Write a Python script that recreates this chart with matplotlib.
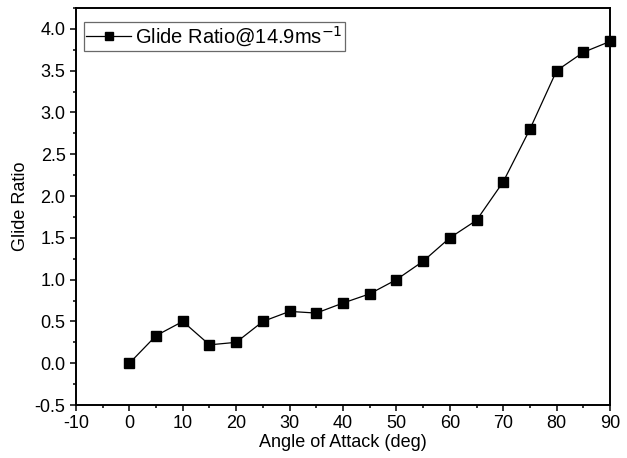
import matplotlib.pyplot as plt
from matplotlib.ticker import MultipleLocator

plt.rcParams['font.family'] = ['Liberation Sans', 'DejaVu Sans']

# Datos
angle = [0, 5, 10, 15, 20, 25, 30, 35, 40, 45, 50, 55, 60, 65, 70, 75, 80, 85, 90]
glide = [0.0, 0.33, 0.5, 0.22, 0.25, 0.5, 0.62, 0.6, 0.72, 0.83, 1.0, 1.22,
         1.5, 1.71, 2.17, 2.8, 3.5, 3.72, 3.85]

fig = plt.figure(figsize=(6.27, 4.58), dpi=100)
ax = fig.add_axes([0.1212, 0.1157, 0.8517, 0.8668])

ax.plot(angle, glide, color='black', linewidth=0.9, marker='s', markersize=7,
        clip_on=False, zorder=3, label='Glide Ratio@14.9ms$^{-1}$')

ax.set_xlim(-10, 90)
ax.set_ylim(-0.5, 4.25)
ax.xaxis.set_minor_locator(MultipleLocator(5))
ax.yaxis.set_minor_locator(MultipleLocator(0.25))
ax.set_xticks(range(-10, 91, 10))
ax.set_xticklabels([str(v) for v in range(-10, 91, 10)])
ax.set_yticks([-0.5 + 0.5 * i for i in range(10)])
ax.set_yticklabels(['%.1f' % (-0.5 + 0.5 * i) for i in range(10)])

ax.tick_params(which='major', direction='out', length=4.5, width=1.1,
               labelsize=13, pad=3)
ax.tick_params(which='minor', direction='out', length=2.5, width=1.1)
for s in ax.spines.values():
    s.set_linewidth(1.4)

ax.set_xlabel('Angle of Attack (deg)', fontsize=13, labelpad=1)
ax.set_ylabel('Glide Ratio', fontsize=13, labelpad=4)

leg = ax.legend(loc='upper left', bbox_to_anchor=(0.015, 0.965), fontsize=14.5,
                frameon=True, fancybox=False, edgecolor='#444444',
                handlelength=2.2, borderaxespad=0, borderpad=0.12,
                handletextpad=0.2, markerscale=0.75)
leg.get_frame().set_linewidth(0.9)

fig.savefig('out.png', dpi=100)
